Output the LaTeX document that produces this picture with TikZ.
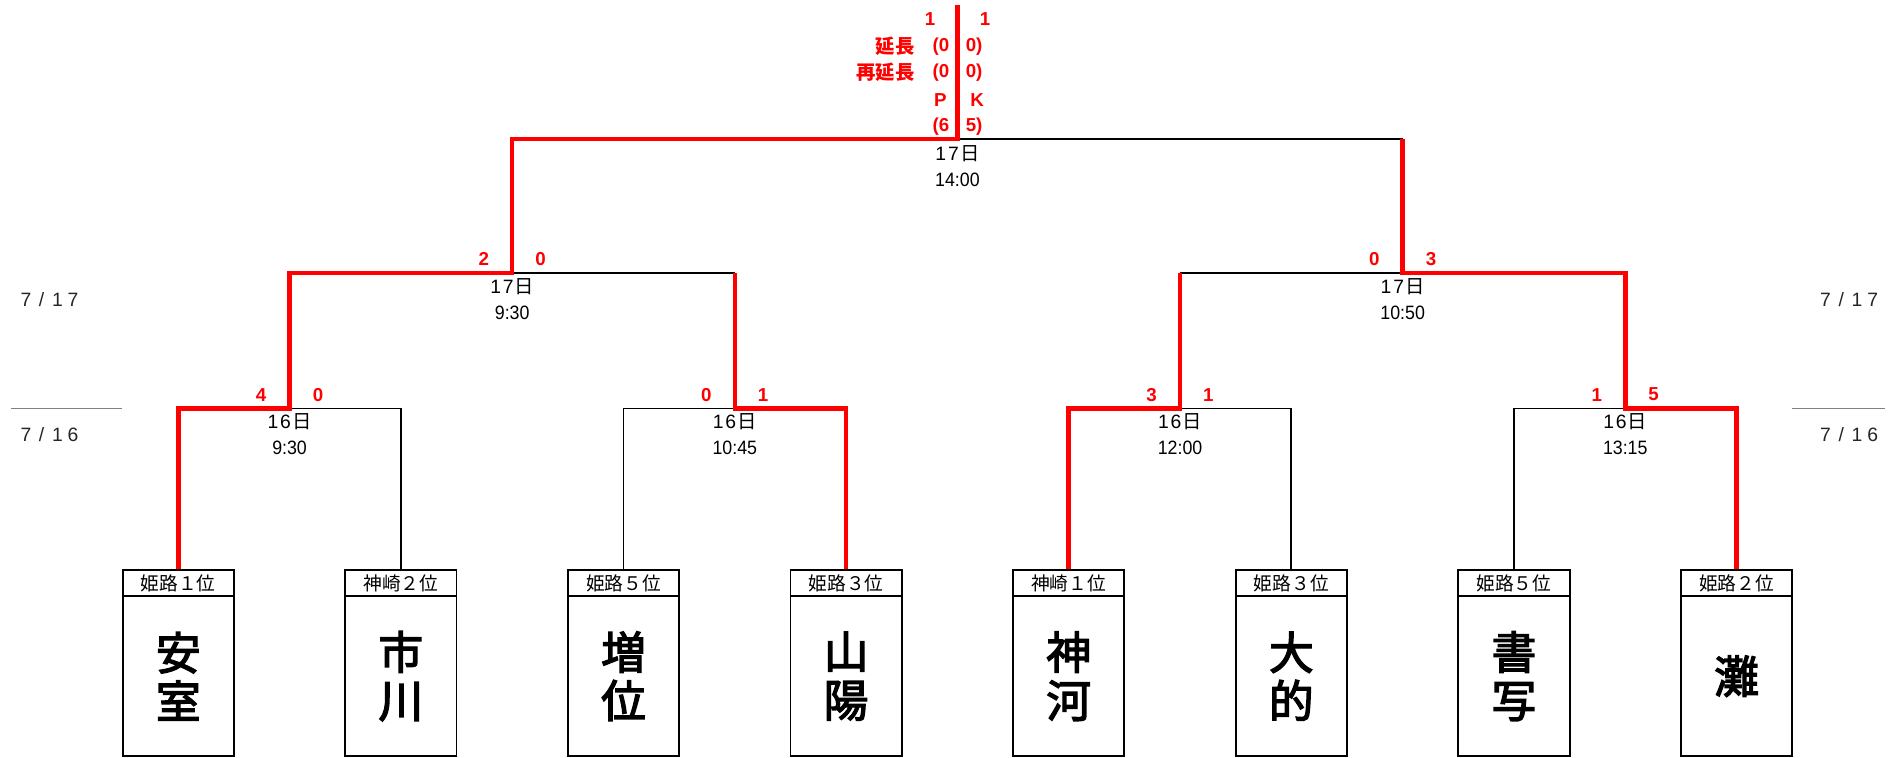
\documentclass[tikz,border=0pt]{standalone}
\usepackage{fontspec}
\setmainfont{Liberation Sans}
\newfontfamily\jp{Noto Sans CJK JP}
\newfontfamily\jpteam[FakeBold=3]{Noto Sans CJK JP}
\newcommand\dayl[2]{#1\kern1.5pt #2\kern1pt{\jp 日}}
\newcommand\tim[1]{\scalebox{0.92}[1]{#1}}
\newcommand\fwc[1]{\makebox[13pt]{#1}}
\tikzset{
  win/.style={red, line width=3.8pt, line join=miter},
  lose/.style={black, line width=1.6pt},
  hdr/.style={draw, line width=1.6pt, minimum width=92pt, minimum height=22pt, inner sep=0pt, font=\jp\fontsize{15.5}{16}\selectfont},
  teambox/.style={draw, line width=1.6pt, minimum width=92pt, minimum height=132pt, inner sep=0pt, align=center, font=\jpteam\fontsize{37}{40}\selectfont},
  score/.style={text=red, font=\bfseries\fontsize{15.5}{16}\selectfont, inner sep=0pt},
  scorejp/.style={text=red, font=\jp\bfseries\fontsize{16}{17}\selectfont, inner sep=0pt},
  daylbl/.style={font=\fontsize{16}{17}\selectfont, inner sep=0pt},
  side/.style={font=\fontsize{16}{17}\selectfont, inner sep=0pt, text=black!85},
  sepline/.style={gray, line width=1.5pt}
}
\begin{document}
\begin{tikzpicture}[x=1pt,y=-1pt]
\useasboundingbox (0,0) rectangle (1568,626.4);
% boxes
\foreach \i/\x/\h/\t in {1/147.5/姫路１位/安\\室, 2/331.7/神崎２位/市\\川, 3/515.9/姫路５位/増\\位, 4/700.1/姫路３位/山\\陽, 5/884.3/神崎１位/神\\河, 6/1068.5/姫路３位/大\\的, 7/1252.7/姫路５位/書\\写, 8/1436.9/姫路２位/灘}{
  \node[hdr] (h\i) at (\x,482.5) {\h};
  \node[teambox] (b\i) at (\x,559.5) {\t};
}
% junctions
\coordinate (m1) at (239.6,338);
\coordinate (m2) at (608,338);
\coordinate (m3) at (976.4,338);
\coordinate (m4) at (1344.8,338);
\coordinate (s1) at (423.8,226);
\coordinate (s2) at (1160.6,226);
\coordinate (f) at (792.2,115);
\coordinate (top) at (792.2,4);
% losing lines
\draw[lose] (m1) -| (h2.north);
\draw[lose] (m2) -| (h3.north);
\draw[lose] (m3) -| (h6.north);
\draw[lose] (m4) -| (h7.north);
\draw[lose] (s1) -- (m2 |- s1);
\draw[lose] (s2) -- (m3 |- s2);
\draw[lose] (f) -- (s2 |- f);
% winning lines
\draw[win] (h1.north) |- (m1) |- (s1) |- (f) -- (top);
\draw[win] (h4.north) |- (m2) -- (m2 |- s1);
\draw[win] (h5.north) |- (m3) -- (m3 |- s2);
\draw[win] (h8.north) |- (m4) |- (s2) -- (s2 |- f);
% day / time labels
\node[daylbl] (d1) at (239.6,349) {\dayl{1}{6}};
\node[daylbl] (t1) at (239.6,370.5) {\tim{9:30}};
\node[daylbl] (d2) at (608,349) {\dayl{1}{6}};
\node[daylbl] (t2) at (608,370.5) {\tim{10:45}};
\node[daylbl] (d3) at (976.4,349) {\dayl{1}{6}};
\node[daylbl] (t3) at (976.4,370.5) {\tim{12:00}};
\node[daylbl] (d4) at (1344.8,349) {\dayl{1}{6}};
\node[daylbl] (t4) at (1344.8,370.5) {\tim{13:15}};
\node[daylbl] (d5) at (423.8,237) {\dayl{1}{7}};
\node[daylbl] (t5) at (423.8,259) {\tim{9:30}};
\node[daylbl] (d6) at (1160.6,237) {\dayl{1}{7}};
\node[daylbl] (t6) at (1160.6,259) {\tim{10:50}};
\node[daylbl] (d7) at (792.2,127) {\dayl{1}{7}};
\node[daylbl] (t7) at (792.2,149) {\tim{14:00}};
% scores round 1
\node[score] (p1a) at (216.1,326.5) {4};
\node[score] (p1b) at (263.1,326.5) {0};
\node[score] (p2a) at (584.5,326.5) {0};
\node[score] (p2b) at (631.5,326.5) {1};
\node[score] (p3a) at (952.9,326.5) {3};
\node[score] (p3b) at (999.9,326.5) {1};
\node[score] (p4a) at (1321.3,326.5) {1};
\node[score] (p4b) at (1368.3,326.5) {5};
% scores round 2
\node[score] (q1a) at (400.3,214.5) {2};
\node[score] (q1b) at (447.3,214.5) {0};
\node[score] (q2a) at (1137.1,214.5) {0};
\node[score] (q2b) at (1184.1,214.5) {3};
% final
\node[score] (fa) at (769.5,16) {1};
\node[score] (fb) at (815,16) {1};
\node[scorejp, anchor=east] (l1) at (757,38.5) {延長};
\node[scorejp, anchor=east] (l2) at (757,60) {再延長};
\node[score] (fa1) at (778.5,38.5) {(0};
\node[score] (fb1) at (806,38.5) {0)};
\node[score] (fa2) at (778.5,60) {(0};
\node[score] (fb2) at (806,60) {0)};
\node[score] (fa3) at (778,82.5) {P};
\node[score] (fb3) at (808.5,82.5) {K};
\node[score] (fa4) at (778.5,104.5) {(6};
\node[score] (fb4) at (806,104.5) {5)};
% side labels
\coordinate (gl1) at (9.5,338);
\coordinate (gl2) at (101,338);
\coordinate (gr1) at (1483,338);
\coordinate (gr2) at (1560,338);
\draw[sepline] (gl1) -- (gl2);
\draw[sepline] (gr1) -- (gr2);
\node[side] (sl1) at (41,248) {\fwc{7}\fwc{/}\fwc{1}\fwc{7}};
\node[side] (sl2) at (41,360) {\fwc{7}\fwc{/}\fwc{1}\fwc{6}};
\node[side] (sr1) at (1530,248) {\fwc{7}\fwc{/}\fwc{1}\fwc{7}};
\node[side] (sr2) at (1530,360) {\fwc{7}\fwc{/}\fwc{1}\fwc{6}};
\end{tikzpicture}
\end{document}
